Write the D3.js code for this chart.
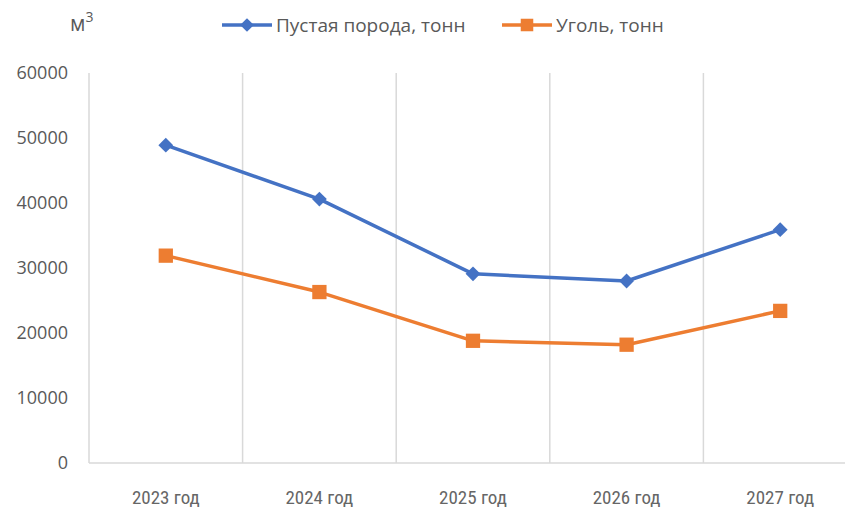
<!DOCTYPE html>
<html>
<head>
<meta charset="utf-8">
<script src="https://cdn.jsdelivr.net/npm/d3@7"></script>
<style>
  body { margin: 0; background: #fff; }
  svg { display: block; }
</style>
</head>
<body>
<div id="chart"></div>
<script>
const categories = ["2023 год", "2024 год", "2025 год", "2026 год", "2027 год"];
const rockValues = [48900, 40600, 29100, 28000, 35900];
const coalValues = [31900, 26300, 18800, 18200, 23400];
const yTicks = [0, 10000, 20000, 30000, 40000, 50000, 60000];
const seriesNames = ["Пустая порода, тонн", "Уголь, тонн"];

const W = 845, H = 508;
const blue = "#4472C4", orange = "#ED7D31", grid = "#d9d9d9", txt = "#595959";

const svg = d3.select("#chart").append("svg")
  .attr("width", W).attr("height", H);

// category axis runs past the right edge like in the picture
const x = d3.scaleBand().domain(categories).range([89, 857]);
const y = d3.scaleLinear().domain([0, 60000]).range([463, 73]);
const cx = c => x(c) + x.bandwidth() / 2;

//vertical gridlines between categories
const bounds = categories.map(c => x(c)).concat([x.range()[1]]);
svg.append("g").selectAll("line").data(bounds).join("line")
  .attr("x1", d => d).attr("x2", d => d)
  .attr("y1", y(60000)).attr("y2", y(0))
  .attr("stroke", grid).attr("stroke-width", 1.5);

//baseline
svg.append("line")
  .attr("x1", x.range()[0]).attr("x2", x.range()[1])
  .attr("y1", y(0)).attr("y2", y(0))
  .attr("stroke", grid).attr("stroke-width", 1.5);

//y tick labels
svg.append("g").selectAll("text").data(yTicks).join("text")
  .attr("x", 68).attr("y", d => y(d))
  .attr("dy", "0.35em")
  .attr("text-anchor", "end")
  .attr("font-family", "'Open Sans', sans-serif")
  .attr("font-size", 18)
  .attr("fill", txt)
  .text(d => d);

//x labels
svg.append("g").selectAll("text").data(categories).join("text")
  .attr("x", d => cx(d)).attr("y", 504)
  .attr("text-anchor", "middle")
  .attr("font-family", "'Liberation Sans Narrow', 'Roboto Condensed', Roboto, sans-serif")
  .attr("font-size", 19)
  .attr("fill", "#666")
  .text(d => d);

//unit label
const unit = svg.append("text")
  .attr("x", 70).attr("y", 31)
  .attr("font-family", "'Open Sans', sans-serif")
  .attr("font-size", 21)
  .attr("fill", txt);
unit.append("tspan").text("м");
unit.append("tspan").attr("dy", -9).attr("font-size", 14).text("3");

const line = d3.line().x((d, i) => cx(categories[i])).y(d => y(d));

function drawSeries(values, color, shape) {
  svg.append("path")
    .datum(values)
    .attr("d", line)
    .attr("fill", "none")
    .attr("stroke", color)
    .attr("stroke-width", 3.5)
    .attr("stroke-linejoin", "round");

  svg.append("g").selectAll("path").data(values).join("path")
    .attr("transform", (d, i) => `translate(${cx(categories[i])},${y(d)})`)
    .attr("d", shape)
    .attr("fill", color);
}

const diamond = d3.symbol().type(d3.symbolDiamond2).size(140)();
const square = d3.symbol().type(d3.symbolSquare2).size(260)();

drawSeries(rockValues, blue, diamond);
drawSeries(coalValues, orange, square);

//legend
const legend = [
  { name: seriesNames[0], color: blue, shape: d3.symbol().type(d3.symbolDiamond2).size(120)(), x: 222 },
  { name: seriesNames[1], color: orange, shape: d3.symbol().type(d3.symbolSquare2).size(200)(), x: 502 }
];
const lg = svg.append("g").selectAll("g").data(legend).join("g")
  .attr("transform", d => `translate(${d.x},25)`);
lg.append("line")
  .attr("x1", 0).attr("x2", 50).attr("y1", 0).attr("y2", 0)
  .attr("stroke", d => d.color).attr("stroke-width", 3.5);
lg.append("path")
  .attr("transform", "translate(25,0)")
  .attr("d", d => d.shape)
  .attr("fill", d => d.color);
lg.append("text")
  .attr("x", 54).attr("dy", "0.35em")
  .attr("font-family", "'Open Sans', sans-serif")
  .attr("font-size", 19)
  .attr("fill", txt)
  .text(d => d.name);
</script>
</body>
</html>
